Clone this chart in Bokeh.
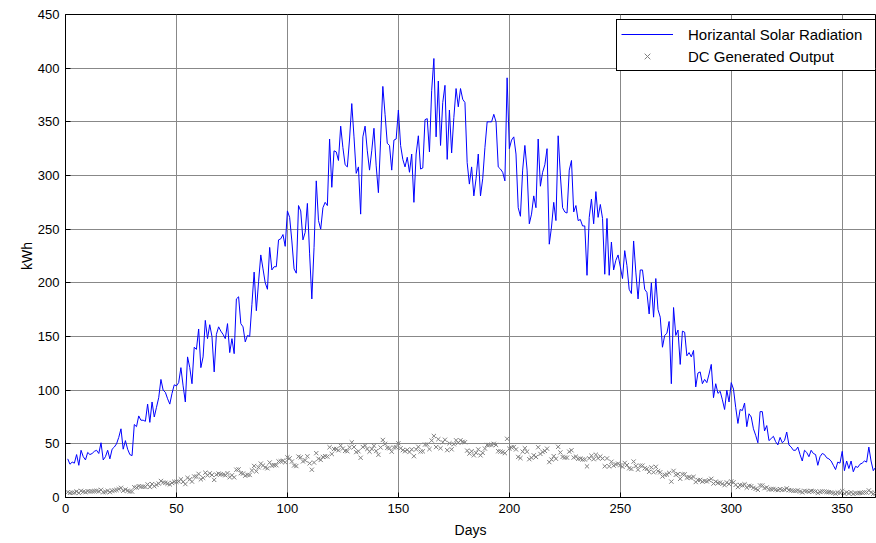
from bokeh.plotting import figure
from bokeh.models import Range1d, FixedTicker, Legend, LegendItem, ColumnDataSource
from bokeh.embed import file_html
from bokeh.resources import INLINE

days = list(range(1, 366))

radiation = [
    36, 31, 33, 32, 40, 30, 44, 38, 35, 42,
    40, 41, 43, 44, 41, 51, 35, 38, 44, 36,
    45, 47, 50, 56, 64, 45, 53, 45, 40, 39,
    68, 66, 76, 72, 72, 71, 87, 70, 89, 75,
    84, 93, 110, 100, 98, 92, 87, 97, 105, 104,
    107, 121, 104, 89, 131, 121, 106, 140, 138, 157,
    121, 131, 165, 148, 161, 150, 117, 152, 159, 155,
    152, 148, 162, 135, 148, 134, 185, 187, 162, 159,
    145, 151, 150, 180, 210, 174, 201, 226, 213, 200,
    194, 233, 212, 215, 215, 240, 241, 245, 234, 267,
    261, 239, 213, 209, 272, 267, 240, 247, 274, 227,
    185, 233, 295, 258, 250, 270, 275, 272, 334, 289,
    323, 322, 314, 346, 326, 310, 308, 334, 367, 336,
    302, 308, 264, 336, 346, 323, 305, 323, 344, 309,
    284, 333, 383, 357, 330, 328, 305, 333, 334, 361,
    328, 315, 308, 317, 303, 320, 275, 320, 337, 306,
    307, 352, 353, 322, 379, 409, 336, 388, 328, 368,
    384, 315, 361, 321, 354, 381, 364, 381, 371, 368,
    312, 292, 308, 281, 297, 320, 281, 297, 326, 350,
    350, 350, 357, 350, 308, 306, 303, 295, 391, 325,
    333, 336, 320, 270, 262, 305, 328, 305, 255, 264,
    281, 270, 334, 290, 303, 310, 325, 236, 252, 275,
    258, 337, 300, 270, 266, 265, 305, 314, 266, 272,
    258, 259, 253, 253, 207, 261, 278, 255, 285, 261,
    273, 260, 208, 260, 207, 238, 212, 221, 226, 215,
    204, 230, 216, 194, 190, 239, 210, 185, 212, 212,
    194, 191, 171, 200, 168, 204, 175, 168, 140, 151,
    153, 164, 106, 177, 151, 156, 124, 155, 154, 132,
    135, 131, 137, 103, 116, 117, 106, 110, 107, 115,
    124, 93, 106, 97, 99, 91, 82, 100, 89, 107,
    101, 84, 69, 82, 81, 88, 66, 78, 75, 64,
    58, 51, 80, 80, 62, 67, 53, 55, 57, 52,
    49, 56, 51, 53, 61, 49, 47, 44, 44, 47,
    40, 34, 44, 42, 38, 44, 41, 40, 30, 38,
    41, 40, 37, 36, 34, 30, 26, 33, 32, 43,
    25, 34, 27, 34, 24, 29, 28, 31, 32, 34,
    33, 47, 34, 25, 28,
]

dc_output = [
    5.0, 4.3, 4.6, 4.5, 5.6, 4.2, 6.2, 5.3, 4.9, 5.9,
    5.6, 5.7, 6.0, 6.2, 5.7, 7.1, 4.9, 5.3, 6.2, 5.0,
    6.3, 6.6, 7.0, 7.8, 9.0, 6.3, 7.4, 6.3, 5.6, 5.5,
    9.5, 9.2, 10.6, 10.1, 10.1, 9.9, 12.2, 9.8, 12.5, 10.5,
    11.8, 13.0, 15.4, 14.0, 13.7, 12.9, 12.2, 13.6, 14.7, 14.6,
    15.0, 16.9, 14.6, 12.5, 18.3, 16.9, 14.8, 19.6, 19.3, 22.0,
    16.9, 18.3, 23.1, 20.7, 22.5, 21.0, 16.4, 21.3, 22.3, 21.7,
    21.3, 20.7, 22.7, 18.9, 20.7, 18.8, 25.9, 26.2, 22.7, 22.3,
    20.3, 21.1, 21.0, 25.2, 29.4, 24.4, 28.1, 31.6, 29.8, 28.0,
    27.2, 32.6, 29.7, 30.1, 30.1, 33.6, 33.7, 34.3, 32.8, 37.4,
    36.5, 33.5, 29.8, 29.3, 38.1, 37.4, 33.6, 34.6, 38.4, 31.8,
    25.9, 32.6, 41.3, 36.1, 35.0, 37.8, 38.5, 38.1, 46.8, 40.5,
    45.2, 45.1, 44.0, 48.4, 45.6, 43.4, 43.1, 46.8, 51.4, 47.0,
    42.3, 43.1, 37.0, 47.0, 48.4, 45.2, 42.7, 45.2, 48.2, 43.3,
    39.8, 46.6, 53.6, 50.0, 46.2, 45.9, 42.7, 46.6, 46.8, 50.5,
    45.9, 44.1, 43.1, 44.4, 42.4, 44.8, 38.5, 44.8, 47.2, 42.8,
    43.0, 49.3, 49.4, 45.1, 53.1, 57.3, 47.0, 54.3, 45.9, 51.5,
    53.8, 44.1, 50.5, 44.9, 49.6, 53.3, 51.0, 53.3, 51.9, 51.5,
    43.7, 40.9, 43.1, 39.3, 41.6, 44.8, 39.3, 41.6, 45.6, 49.0,
    49.0, 49.0, 50.0, 49.0, 43.1, 42.8, 42.4, 41.3, 54.7, 45.5,
    46.6, 47.0, 44.8, 37.8, 36.7, 42.7, 45.9, 42.7, 35.7, 37.0,
    39.3, 37.8, 46.8, 40.6, 42.4, 43.4, 45.5, 33.0, 35.3, 38.5,
    36.1, 47.2, 42.0, 37.8, 37.2, 37.1, 42.7, 44.0, 37.2, 38.1,
    36.1, 36.3, 35.4, 35.4, 29.0, 36.5, 38.9, 35.7, 39.9, 36.5,
    38.2, 36.4, 29.1, 36.4, 29.0, 33.3, 29.7, 30.9, 31.6, 30.1,
    28.6, 32.2, 30.2, 27.2, 26.6, 33.5, 29.4, 25.9, 29.7, 29.7,
    27.2, 26.7, 23.9, 28.0, 23.5, 28.6, 24.5, 23.5, 19.6, 21.1,
    21.4, 23.0, 14.8, 24.8, 21.1, 21.8, 17.4, 21.7, 21.6, 18.5,
    18.9, 18.3, 19.2, 14.4, 16.2, 16.4, 14.8, 15.4, 15.0, 16.1,
    17.4, 13.0, 14.8, 13.6, 13.9, 12.7, 11.5, 14.0, 12.5, 15.0,
    14.1, 11.8, 9.7, 11.5, 11.3, 12.3, 9.2, 10.9, 10.5, 9.0,
    8.1, 7.1, 11.2, 11.2, 8.7, 9.4, 7.4, 7.7, 8.0, 7.3,
    6.9, 7.8, 7.1, 7.4, 8.5, 6.9, 6.6, 6.2, 6.2, 6.6,
    5.6, 4.8, 6.2, 5.9, 5.3, 6.2, 5.7, 5.6, 4.2, 5.3,
    5.7, 5.6, 5.2, 5.0, 4.8, 4.2, 3.6, 4.6, 4.5, 6.0,
    3.5, 4.8, 3.8, 4.8, 3.4, 4.1, 3.9, 4.3, 4.5, 4.8,
    4.6, 6.6, 4.8, 3.5, 3.9,
]

x_ticks = [0, 50, 100, 150, 200, 250, 300, 350]
y_ticks = [0, 50, 100, 150, 200, 250, 300, 350, 400, 450]
series_labels = ["Horizantal Solar Radiation", "DC Generated Output"]
x_label = "Days"
y_label = "kWh"

FONT = "Liberation Sans"

src = ColumnDataSource(dict(day=days, rad=radiation, dc=dc_output))

p = figure(frame_width=810, frame_height=483, output_backend="svg", toolbar_location=None,
           x_range=Range1d(0, 365), y_range=Range1d(0, 450),
           min_border_left=65, min_border_right=1, min_border_top=14,
           min_border_bottom=46, background_fill_color="white",
           border_fill_color="white")

p.outline_line_color = "black"
p.outline_line_width = 1
p.outline_line_alpha = 1

for ax, ticks, lab in ((p.xaxis[0], x_ticks, x_label), (p.yaxis[0], y_ticks, y_label)):
    ax.ticker = FixedTicker(ticks=ticks)
    ax.axis_label = lab
    ax.axis_label_text_font = FONT
    ax.axis_label_text_font_size = "14px"
    ax.axis_label_text_font_style = "normal"
    ax.axis_label_text_color = "black"
    ax.major_label_text_font = FONT
    ax.major_label_text_font_size = "13px"
    ax.major_label_text_color = "black"
    ax.major_tick_in = 5
    ax.major_tick_out = 0
    ax.minor_tick_in = 0
    ax.minor_tick_out = 0
    ax.axis_line_color = "black"
    ax.major_tick_line_color = "black"
p.xaxis[0].major_label_standoff = 6
p.yaxis[0].major_label_standoff = 6
p.xaxis[0].axis_label_standoff = 6
p.yaxis[0].axis_label_standoff = 0

p.xgrid.ticker = FixedTicker(ticks=x_ticks)
p.ygrid.ticker = FixedTicker(ticks=y_ticks)
for g in (p.xgrid[0], p.ygrid[0]):
    g.grid_line_color = "#888888"
    g.grid_line_width = 1
    g.grid_line_alpha = 1

r1 = p.line("day", "rad", source=src, line_color="#0000ff", line_width=1)
r2 = p.scatter("day", "dc", source=src, marker="x", size=6, line_color="#808080", line_width=1)

legend = Legend(items=[LegendItem(label=series_labels[0], renderers=[r1]),
                       LegendItem(label=series_labels[1], renderers=[r2])],
                location=(551, 426))
legend.border_line_color = "black"
legend.border_line_width = 1
legend.border_line_alpha = 1
legend.background_fill_color = "white"
legend.background_fill_alpha = 1
legend.padding = 4
legend.spacing = 2
legend.margin = 0
legend.glyph_width = 52
legend.glyph_height = 20
legend.label_height = 20
legend.label_width = 183
legend.label_standoff = 15
legend.label_text_font = FONT
legend.label_text_font_size = "15px"
legend.label_text_color = "black"
p.add_layout(legend)

open("out.html", "w").write(file_html(p, INLINE))
